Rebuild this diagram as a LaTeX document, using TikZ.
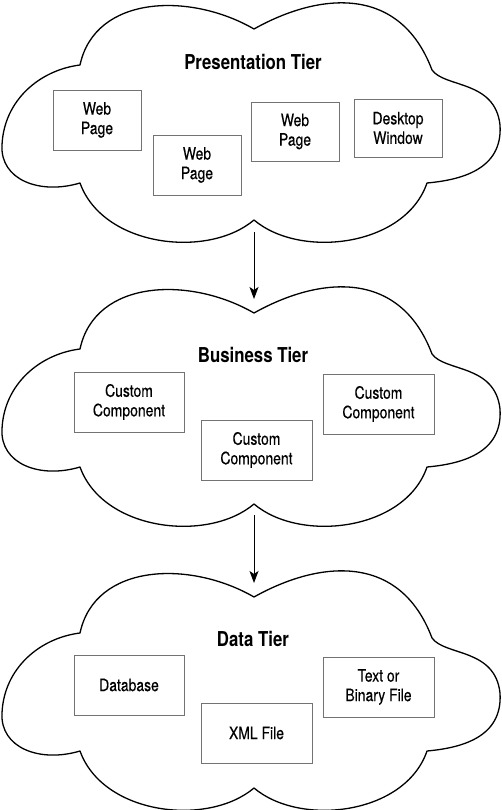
\documentclass[tikz,border=0pt]{standalone}
\usepackage{fontspec}
\setmainfont{TeX Gyre Heros}[FakeStretch=0.82]
\newfontfamily\boxfont{TeX Gyre Heros}[FakeStretch=0.82, FakeBold=0.35]
\usetikzlibrary{arrows.meta}
\tikzset{
  cloudline/.style={draw=black, line width=1.3pt, line join=round},
  box/.style={draw=black!55, line width=0.9pt, fill=white, align=center,
    inner sep=0pt, font=\boxfont\fontsize{17}{19.5}\selectfont},
  tiertitle/.style={font=\bfseries\fontsize{20.5}{24}\selectfont, inner sep=0pt},
  flow/.style={line width=1pt, -{Stealth[length=12pt,width=9pt,inset=3pt]}},
  cloud/.pic={
    \path[cloudline] (254,29) .. controls (320,-8) and (400,-15) .. (432,70)
      .. controls (445,88) and (495,80) .. (500,125)
      .. controls (503,170) and (460,180) .. (427,183)
      .. controls (405,247) and (300,259) .. (254,220)
      .. controls (208,259) and (103,247) .. (80,183)
      .. controls (40,195) and (0,180) .. (2,145)
      .. controls (4,100) and (40,70) .. (80,65)
      .. controls (95,-5) and (190,-8) .. (254,29) -- cycle;
  }
}
\begin{document}
\begin{tikzpicture}[x=1pt,y=-1pt]
\useasboundingbox (0,0) rectangle (502,810);
\fill[white] (0,0) rectangle (502,810);

% clouds
\pic at (0,0) {cloud};
\pic at (0,284) {cloud};
\pic at (0,568) {cloud};

% presentation tier
\node[tiertitle] (pt) at (253,62) {Presentation Tier};
\node[box, minimum width=88pt, minimum height=60pt] (wp1) at (97,120) {Web\\Page};
\node[box, minimum width=88pt, minimum height=60pt] (wp2) at (197,165) {Web\\Page};
\node[box, minimum width=88pt, minimum height=59pt] (wp3) at (295,131.5) {Web\\Page};
\node[box, minimum width=88pt, minimum height=58pt] (dw) at (398,128) {Desktop\\Window};

% business tier
\node[tiertitle] (bt) at (253,355) {Business Tier};
\node[box, minimum width=110pt, minimum height=60pt] (cc1) at (129,402) {Custom\\Component};
\node[box, minimum width=111pt, minimum height=60pt] (cc2) at (256.5,450) {Custom\\Component};
\node[box, minimum width=111pt, minimum height=60pt] (cc3) at (378.5,404) {Custom\\Component};

% data tier
\node[tiertitle] (dt) at (253,639) {Data Tier};
\node[box, minimum width=110pt, minimum height=60pt] (db) at (129,685) {Database};
\node[box, minimum width=111pt, minimum height=60pt] (xml) at (256.5,733) {XML File};
\node[box, minimum width=111pt, minimum height=60pt] (tbf) at (378.5,687) {Text or\\Binary File};

% arrows
\coordinate (a1s) at (254,232);
\coordinate (a1e) at (254,299);
\coordinate (a2s) at (254,515);
\coordinate (a2e) at (254,583);
\draw[flow] (a1s) -- (a1e);
\draw[flow] (a2s) -- (a2e);
\end{tikzpicture}
\end{document}
